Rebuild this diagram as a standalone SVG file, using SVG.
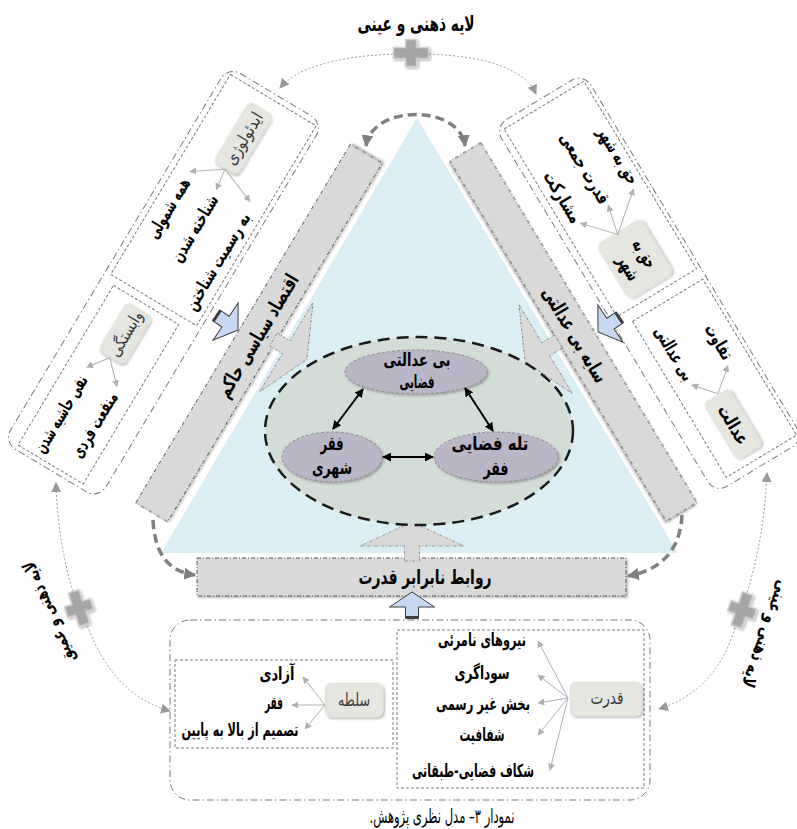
<svg xmlns="http://www.w3.org/2000/svg" width="797" height="829" viewBox="0 0 797 829">
<defs>
<style>
.t{font-family:"DejaVu Sans",sans-serif;font-weight:bold;fill:#000;font-size:18px}
.tn{font-family:"DejaVu Sans",sans-serif;fill:#3a3a3a;font-size:17px}
.lbl{fill:#e6e6e1;stroke:#d8d8d2;stroke-width:0.5;filter:url(#sh)}
.od{fill:none;stroke:#7a7a7a;stroke-width:1;stroke-dasharray:7 3 1.5 3}
.id{fill:none;stroke:#7a7a7a;stroke-width:1;stroke-dasharray:3 2}
.bar{fill:#d9d9d9;stroke:#595959;stroke-width:1;stroke-dasharray:4 2 1 2;filter:url(#sh)}
.co{fill:#d9d9d9;stroke:#7f7f7f;stroke-width:0.8;stroke-dasharray:3 1.5 1 1.5}
.se{fill:#b9b6c8;stroke:#8a8a8a;stroke-width:1;stroke-dasharray:3 2;filter:url(#sh)}
.la{fill:none;stroke:#b0b0b0;stroke-width:1;marker-end:url(#mL)}
.dot{fill:none;stroke:#999;stroke-width:1;stroke-dasharray:2 2;marker-end:url(#mD)}
.thk{fill:none;stroke:#808080;stroke-width:3.5;stroke-dasharray:9 5;marker-end:url(#mT)}
.blk{fill:none;stroke:#000;stroke-width:2;marker-start:url(#mB);marker-end:url(#mB)}
</style>
<filter id="sh" x="-20%" y="-20%" width="140%" height="140%"><feDropShadow dx="1.5" dy="1.5" stdDeviation="1.2" flood-color="#000" flood-opacity="0.3"/></filter>
<marker id="mD" viewBox="0 0 10 10" refX="9" refY="5" markerWidth="10" markerHeight="10" markerUnits="userSpaceOnUse" orient="auto"><path d="M0,0 L10,5 L0,10z" fill="#999"/></marker>
<marker id="mT" viewBox="0 0 10 10" refX="9" refY="5" markerWidth="12" markerHeight="12" markerUnits="userSpaceOnUse" orient="auto-start-reverse"><path d="M0,0 L10,5 L0,10z" fill="#808080"/></marker>
<marker id="mB" viewBox="0 0 10 10" refX="9" refY="5" markerWidth="9" markerHeight="9" markerUnits="userSpaceOnUse" orient="auto-start-reverse"><path d="M0,0 L10,5 L0,10z" fill="#000"/></marker>
<marker id="mL" viewBox="0 0 10 10" refX="9" refY="5" markerWidth="7" markerHeight="7" markerUnits="userSpaceOnUse" orient="auto"><path d="M0,0 L10,5 L0,10z" fill="#b0b0b0"/></marker>
<path id="plus" d="M-5.5,-13.5H5.5V-5.5H17.5V5.5H5.5V13.5H-5.5V5.5H-17.5V-5.5H-5.5Z" fill="#a6a6a6" stroke="#d0d0d0" stroke-width="1.5"/>
<g id="ba"><path d="M0,0 L22.5,15 L6.5,15 L6.5,26 L-6.5,26 L-6.5,15 L-22.5,15Z" fill="#c6d9f1" stroke="#3f3f3f" stroke-width="1"/><rect x="-6.5" y="24" width="13" height="3" fill="#3f3f3f"/></g>
<path id="co" class="co" d="M-3,-7.5 L12,-7.5 L12,-52 L36,0 L12,52 L12,7.5 L-3,7.5Z"/>
</defs>

<g id="titles">
<text class="t" x="416" y="31" text-anchor="middle" style="font-size:21px" textLength="117" lengthAdjust="spacingAndGlyphs">لایه ذهنی و عینی</text>
<text class="t" x="54" y="610" text-anchor="middle" style="font-size:18px" transform="rotate(-112.5 54 610)" textLength="108" lengthAdjust="spacingAndGlyphs">لایه ذهنی و عمیق</text>
<text class="t" x="760" y="632" text-anchor="middle" style="font-size:18px" transform="rotate(109.4 760 632)" textLength="112" lengthAdjust="spacingAndGlyphs">لایه ذهنی و عینی</text>
<text x="442" y="823" direction="rtl" text-anchor="middle" style="font-family:'DejaVu Sans',sans-serif;font-size:20px;fill:#000" textLength="145" lengthAdjust="spacingAndGlyphs">نمودار ۳– مدل نظری پژوهش.</text>
</g>

<g id="triangle"><polygon points="417,118 161,553 678,553" fill="#daeef3"/></g>

<g id="bar-left" transform="translate(259,333) rotate(-59.1)">
<rect class="bar" x="-209" y="-18.5" width="418" height="37"/>
<text class="t" x="-3" y="7" style="font-size:20px" text-anchor="middle" textLength="140" lengthAdjust="spacingAndGlyphs">اقتصاد سیاسی حاکم</text>
</g>
<g id="bar-right" transform="translate(573.5,332) rotate(59)">
<rect class="bar" x="-210" y="-18" width="420" height="36"/>
<text class="t" x="3" y="7" style="font-size:20px" text-anchor="middle" textLength="108" lengthAdjust="spacingAndGlyphs">سایه بی عدالتی</text>
</g>
<g id="bar-bottom">
<rect class="bar" x="197" y="558" width="429" height="38"/>
<text class="t" x="425" y="584" style="font-size:20px" text-anchor="middle" textLength="133" lengthAdjust="spacingAndGlyphs">روابط نابرابر قدرت</text>
</g>

<g id="callouts">
<use href="#co" transform="translate(276,341) rotate(30.9)"/>
<use href="#co" transform="translate(556,343) rotate(149)"/>
<use href="#co" transform="translate(412,558) rotate(-90)"/>
</g>

<g id="ellipse-main"><ellipse cx="419" cy="431" rx="154" ry="94" fill="#d3ddd8" stroke="#1a1a1a" stroke-width="2.5" stroke-dasharray="12 7"/></g>
<g id="node-bi-edalati-fazayi">
<ellipse class="se" cx="416" cy="372" rx="71" ry="22"/>
<text class="t" x="417" y="366" style="font-size:18px" text-anchor="middle" textLength="67" lengthAdjust="spacingAndGlyphs">بی عدالتی</text>
<text class="t" x="417" y="388" style="font-size:18px" text-anchor="middle" textLength="35" lengthAdjust="spacingAndGlyphs">فضایی</text>
</g>
<g id="node-faqr-shahri">
<ellipse class="se" cx="332" cy="457" rx="50" ry="25"/>
<text class="t" x="332" y="450" style="font-size:19px" text-anchor="middle" textLength="23" lengthAdjust="spacingAndGlyphs">فقر</text>
<text class="t" x="332" y="474" style="font-size:19px" text-anchor="middle" textLength="40" lengthAdjust="spacingAndGlyphs">شهری</text>
</g>
<g id="node-tale-fazayi">
<ellipse class="se" cx="496" cy="457" rx="62" ry="25"/>
<text class="t" x="490" y="450" style="font-size:19px" text-anchor="middle" textLength="77" lengthAdjust="spacingAndGlyphs">تله فضایی</text>
<text class="t" x="496" y="475" style="font-size:19px" text-anchor="middle" textLength="25" lengthAdjust="spacingAndGlyphs">فقر</text>
</g>

<g id="group-left" transform="translate(229,69) rotate(30.9)">
<rect class="od" x="-2" y="-2" width="111" height="438" rx="14"/>
<g id="node-ideology">
<rect class="id" x="4" y="4" width="100" height="233"/>
<rect class="lbl" x="34" y="17" width="28" height="70" rx="5"/>
<text class="tn" x="54" y="52" text-anchor="middle" transform="rotate(-90 54 52)" textLength="58" lengthAdjust="spacingAndGlyphs">ایدئولوژی</text>
<text class="t" x="25.5" y="117" text-anchor="end" transform="rotate(-90 25.5 117)" textLength="67" lengthAdjust="spacingAndGlyphs">همه شمولی</text>
<text class="t" x="58.5" y="117" text-anchor="end" transform="rotate(-90 58.5 117)" textLength="75" lengthAdjust="spacingAndGlyphs">شناخته شدن</text>
<text class="t" x="95" y="116" text-anchor="end" transform="rotate(-90 95 116)" textLength="110" lengthAdjust="spacingAndGlyphs">به رسمیت شناختن</text>
</g>
<g id="node-vabastegi">
<rect class="id" x="12" y="245" width="76" height="186"/>
<rect class="lbl" x="32" y="252" width="30" height="56" rx="5"/>
<text class="tn" x="53" y="280" text-anchor="middle" transform="rotate(-90 53 280)" textLength="50" lengthAdjust="spacingAndGlyphs">وابستگی</text>
<text class="t" x="39" y="339" text-anchor="end" transform="rotate(-90 39 339)" textLength="87" lengthAdjust="spacingAndGlyphs">نفی حاشیه شدن</text>
<text class="t" x="73.5" y="338" text-anchor="end" transform="rotate(-90 73.5 338)" textLength="73" lengthAdjust="spacingAndGlyphs">منفعت فردی</text>
</g>
</g>

<g id="group-right" transform="translate(500,128) rotate(-31)">
<rect class="od" x="-4" y="-4" width="104" height="428" rx="14"/>
<g id="node-haq">
<rect class="id" x="3" y="3" width="93" height="219"/>
<rect class="lbl" x="22" y="150" width="52" height="64" rx="6"/>
<text class="t" x="53" y="182" style="font-size:19px" text-anchor="middle" transform="rotate(90 53 182)" textLength="30" lengthAdjust="spacingAndGlyphs">حق به</text>
<text class="t" x="32" y="186" style="font-size:19px" text-anchor="middle" transform="rotate(90 32 186)" textLength="26" lengthAdjust="spacingAndGlyphs">شهر</text>
<text class="t" x="81" y="116" text-anchor="end" transform="rotate(90 81 116)" textLength="63" lengthAdjust="spacingAndGlyphs">حق به شهر</text>
<text class="t" x="46" y="118" text-anchor="end" transform="rotate(90 46 118)" textLength="80" lengthAdjust="spacingAndGlyphs">قدرت جمعی</text>
<text class="t" x="12" y="120" text-anchor="end" transform="rotate(90 12 120)" textLength="57" lengthAdjust="spacingAndGlyphs">مشارکت</text>
</g>
<g id="node-edalat">
<rect class="id" x="14" y="234" width="82" height="182"/>
<rect class="lbl" x="32" y="341" width="30" height="66" rx="5"/>
<text class="t" x="41" y="374.5" text-anchor="middle" transform="rotate(90 41 374.5)" textLength="43" lengthAdjust="spacingAndGlyphs">عدالت</text>
<text class="t" x="71.5" y="315" text-anchor="end" transform="rotate(90 71.5 315)" textLength="38" lengthAdjust="spacingAndGlyphs">تفاوت</text>
<text class="t" x="27" y="313" text-anchor="end" transform="rotate(90 27 313)" textLength="60" lengthAdjust="spacingAndGlyphs">بی عدالتی</text>
</g>
</g>

<g id="group-bottom">
<rect class="od" x="170" y="620" width="480" height="180" rx="20"/>
<g id="node-solte">
<rect class="id" x="175" y="660" width="218" height="88"/>
<rect class="lbl" x="325" y="683" width="58" height="34" rx="6"/>
<text class="tn" x="354" y="706" text-anchor="middle" style="font-size:18px" textLength="32" lengthAdjust="spacingAndGlyphs">سلطه</text>
<text class="t" x="277" y="680" text-anchor="middle" textLength="35" lengthAdjust="spacingAndGlyphs">آزادی</text>
<text class="t" x="274" y="709" text-anchor="middle" textLength="18" lengthAdjust="spacingAndGlyphs">فقر</text>
<text class="t" x="240" y="736" text-anchor="middle" textLength="117" lengthAdjust="spacingAndGlyphs">تصمیم از بالا به پایین</text>
</g>
<g id="node-qodrat">
<rect class="id" x="397" y="630" width="247" height="158"/>
<rect class="lbl" x="570" y="682" width="72" height="34" rx="6"/>
<text class="tn" x="607" y="704" text-anchor="middle" style="font-size:18px" textLength="33" lengthAdjust="spacingAndGlyphs">قدرت</text>
<text class="t" x="482" y="646" text-anchor="middle" textLength="88" lengthAdjust="spacingAndGlyphs">نیروهای نامرئی</text>
<text class="t" x="482" y="679" text-anchor="middle" textLength="55" lengthAdjust="spacingAndGlyphs">سوداگری</text>
<text class="t" x="483" y="710" text-anchor="middle" textLength="94" lengthAdjust="spacingAndGlyphs">بخش غیر رسمی</text>
<text class="t" x="482" y="741" text-anchor="middle" textLength="45" lengthAdjust="spacingAndGlyphs">شفافیت</text>
<text class="t" x="473" y="777" text-anchor="middle" textLength="122" lengthAdjust="spacingAndGlyphs">شکاف فضایی-طبقاتی</text>
</g>
</g>

<g id="connectors">
<path class="dot" d="M393,54 Q305,58 280,88"/>
<path class="dot" d="M429,54 Q520,58 536,94"/>
<path class="dot" d="M74,595 Q58,545 56,483"/>
<path class="dot" d="M86,622 Q112,695 170,711"/>
<path class="dot" d="M746,596 Q764,540 767,473"/>
<path class="dot" d="M736,624 Q718,690 659,709"/>
<path class="thk" style="marker-start:url(#mT)" d="M366,146 C372,104 460,104 465,146"/>
<path class="thk" d="M153,520 C155,556 170,572 195,575"/>
<path class="thk" d="M682,515 C680,552 660,570 628,576"/>
<path class="blk" d="M363,389 L333,429"/>
<path class="blk" d="M465,388 L493,431"/>
<path class="blk" d="M383,457 L433,457"/>
<use href="#ba" transform="translate(412,592)"/>
<use href="#ba" transform="translate(238,330) rotate(124)"/>
<use href="#ba" transform="translate(598,332) rotate(-124)"/>
<g transform="translate(229,69) rotate(30.9)">
<path class="la" d="M48,88 L19,108"/>
<path class="la" d="M48,88 L51,110"/>
<path class="la" d="M48,88 L86,103"/>
<path class="la" d="M46,309 L31,329"/>
<path class="la" d="M46,309 L67,330"/>
</g>
<g transform="translate(500,128) rotate(-31)">
<path class="la" d="M46,152 L83,121"/>
<path class="la" d="M46,152 L53,122"/>
<path class="la" d="M46,152 L20,123"/>
<path class="la" d="M50,340 L73,321"/>
<path class="la" d="M50,340 L32,319"/>
</g>
<path class="la" d="M325,705 L303,677"/>
<path class="la" d="M325,705 L292,705"/>
<path class="la" d="M325,705 L305,729"/>
<path class="la" d="M568,698 L538,641"/>
<path class="la" d="M568,698 L538,675"/>
<path class="la" d="M568,698 L538,703"/>
<path class="la" d="M568,698 L538,735"/>
<path class="la" d="M568,698 L550,770"/>
</g>

<g id="junctions" filter="url(#sh)">
<use href="#plus" transform="translate(411,53)"/>
<use href="#plus" transform="translate(79,608) rotate(72)"/>
<use href="#plus" transform="translate(742,610) rotate(109)"/>
</g>
</svg>
